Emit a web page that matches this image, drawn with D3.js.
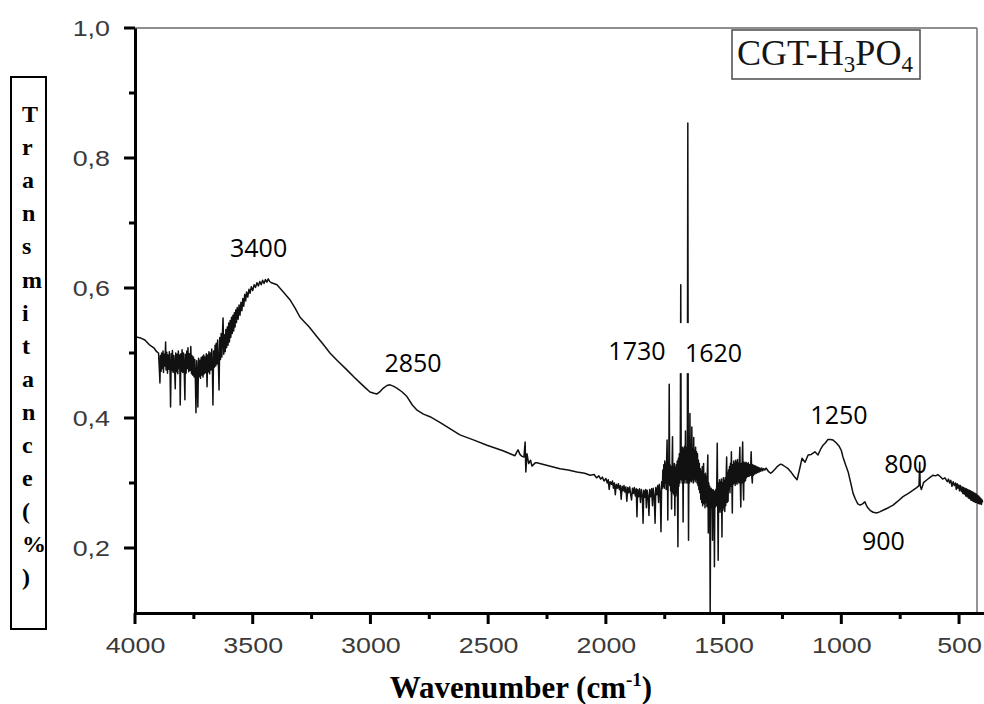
<!DOCTYPE html>
<html>
<head>
<meta charset="utf-8">
<script src="https://cdn.jsdelivr.net/npm/d3@7"></script>
<style>
  html, body { margin: 0; padding: 0; background: #ffffff; }
  svg { display: block; }
</style>
</head>
<body>
<script>
// ---------------- DATA ----------------
const xTickValues = [4000, 3500, 3000, 2500, 2000, 1500, 1000, 500];
const xTickLabels = ["4000", "3500", "3000", "2500", "2000", "1500", "1000", "500"];
const xMinorTicks = [3750, 3250, 2750, 2250, 1750, 1250, 750];
const yTickValues = [0.2, 0.4, 0.6, 0.8, 1.0];
const yTickLabels = ["0,2", "0,4", "0,6", "0,8", "1,0"];
const yMinorTicks = [0.3, 0.5, 0.7, 0.9];

const legendLabel = ["CGT-H", "3", "PO", "4"];
const yAxisLetters = ["T","r","a","n","s","m","i","t","a","n","c","e","(","%",")"];
const xAxisTitle = ["Wavenumber (cm", "-1", ")"];

// peak annotations: label, anchor wavenumber, anchor transmittance
const peakLabels = ["3400", "2850", "1730", "1620", "1250", "800", "900"];
const peakWn     = [3475, 2819, 1868, 1543, 1010, 727, 821];
const peakT      = [0.648, 0.471, 0.489, 0.486, 0.391, 0.315, 0.197];

// FTIR spectrum [wavenumber cm-1, transmittance]
const spectrum = [
 [4000,0.525],[3975,0.523],[3958,0.520],[3940,0.513],[3920,0.508],[3908,0.502],
 [3900,0.500],[3897,0.478],[3894,0.454],[3892,0.496],[3889,0.472],[3887,0.500],[3884,0.476],[3881,0.503],
 [3879,0.470],[3876,0.498],[3873,0.480],[3870,0.517],[3868,0.474],[3865,0.501],[3862,0.469],[3860,0.497],
 [3857,0.475],[3854,0.502],[3851,0.471],[3849,0.417],[3846,0.499],[3843,0.473],[3841,0.504],[3838,0.470],
 [3835,0.496],[3832,0.478],[3829,0.445],[3827,0.500],[3824,0.471],[3821,0.498],[3818,0.468],[3816,0.503],
 [3813,0.476],[3810,0.497],[3808,0.420],[3805,0.499],[3802,0.472],[3800,0.505],[3797,0.470],[3794,0.500],
 [3791,0.474],[3788,0.428],[3786,0.498],[3783,0.469],[3780,0.503],[3777,0.476],[3775,0.508],[3772,0.471],
 [3769,0.499],[3766,0.473],[3763,0.510],[3760,0.468],[3758,0.496],[3755,0.466],[3752,0.494],[3749,0.463],
 [3746,0.490],[3744,0.466],[3741,0.408],[3738,0.488],[3735,0.462],[3733,0.417],[3730,0.492],[3727,0.464],
 [3724,0.489],[3722,0.461],[3719,0.493],[3716,0.466],[3713,0.495],[3711,0.463],[3708,0.497],[3705,0.468],
 [3702,0.494],[3700,0.470],[3697,0.499],[3694,0.448],[3691,0.497],[3688,0.471],[3686,0.502],[3683,0.468],
 [3680,0.500],[3677,0.474],[3674,0.506],[3671,0.470],[3669,0.420],[3666,0.503],[3663,0.478],[3660,0.512],
 [3657,0.480],[3655,0.515],[3652,0.483],[3649,0.520],[3646,0.486],[3643,0.443],[3640,0.524],[3637,0.490],
 [3634,0.530],[3631,0.494],[3628,0.535],[3626,0.554],[3623,0.498],
 [3620,0.528],[3617,0.502],[3614,0.536],[3611,0.508],[3608,0.540],[3605,0.512],[3602,0.546],[3599,0.517],
 [3596,0.550],[3593,0.524],[3590,0.555],[3587,0.530],[3584,0.558],[3581,0.534],[3578,0.562],[3575,0.540],
 [3572,0.566],[3569,0.547],[3566,0.570],[3562,0.552],[3558,0.574],[3554,0.558],[3550,0.578],[3546,0.565],
 [3542,0.584],[3538,0.572],[3534,0.590],[3530,0.580],[3526,0.594],[3521,0.586],[3516,0.598],[3511,0.592],
 [3506,0.602],[3500,0.596],[3494,0.605],[3488,0.601],[3482,0.608],[3476,0.603],[3470,0.610],[3464,0.605],
 [3458,0.612],[3452,0.607],[3446,0.613],[3440,0.609],[3434,0.614],[3428,0.610],[3420,0.608],
 [3397,0.605],[3370,0.594],[3342,0.582],[3320,0.569],[3299,0.555],[3260,0.540],
 [3227,0.525],[3200,0.513],[3172,0.500],[3140,0.488],[3100,0.474],[3070,0.463],
 [3044,0.454],[3020,0.446],[3002,0.440],[2985,0.438],[2972,0.437],[2958,0.441],
 [2945,0.446],[2930,0.450],[2917,0.451],[2903,0.449],[2888,0.446],[2865,0.440],
 [2845,0.433],[2822,0.420],[2802,0.412],[2775,0.406],[2747,0.402],
 [2700,0.392],[2620,0.374],[2560,0.366],[2505,0.358],[2440,0.350],[2386,0.342],
 [2378,0.348],[2373,0.351],[2365,0.344],[2356,0.341],[2348,0.340],[2343,0.363],
 [2340,0.317],[2335,0.345],[2328,0.330],[2320,0.335],[2314,0.326],[2300,0.331],
 [2293,0.331],[2240,0.326],[2195,0.322],[2160,0.320],[2123,0.317],[2090,0.315],
 [2067,0.312],[2050,0.313],
 [2040,0.308],[2030,0.311],[2022,0.306],[2015,0.309],[2008,0.303],[2000,0.307],[1994,0.300],[1990,0.305],
 [1986,0.290],[1982,0.302],[1976,0.298],[1972,0.303],[1968,0.292],[1964,0.300],[1960,0.282],[1956,0.298],
 [1951,0.292],[1947,0.299],[1943,0.290],[1939,0.296],[1935,0.275],[1931,0.295],[1927,0.288],[1923,0.296],
 [1919,0.286],[1915,0.294],[1911,0.272],[1907,0.293],[1903,0.285],[1899,0.294],[1895,0.283],[1891,0.274],
 [1887,0.292],[1883,0.284],[1879,0.293],[1875,0.280],[1871,0.291],[1868,0.248],[1865,0.290],[1861,0.279],
 [1857,0.291],[1853,0.270],[1849,0.290],[1845,0.280],[1842,0.238],[1839,0.289],[1835,0.278],[1831,0.290],
 [1828,0.262],[1825,0.289],[1821,0.280],[1817,0.250],[1814,0.290],[1810,0.279],[1806,0.291],[1802,0.265],
 [1799,0.292],[1795,0.281],[1791,0.238],[1788,0.293],[1784,0.282],[1780,0.296],[1776,0.270],[1773,0.298],
 [1769,0.285],[1766,0.225],[1763,0.302],[1760,0.292],
 [1758,0.320],[1756,0.295],[1754,0.328],[1752,0.292],[1750,0.334],[1748,0.300],[1746,0.330],[1744,0.290],
 [1742,0.336],[1740,0.366],[1738,0.296],[1737,0.243],[1735,0.330],[1733,0.300],[1731,0.452],[1729,0.296],
 [1727,0.328],[1725,0.288],[1723,0.325],[1721,0.260],[1719,0.322],[1717,0.371],[1715,0.285],[1713,0.326],
 [1711,0.282],[1709,0.330],[1707,0.250],[1705,0.324],[1703,0.280],[1701,0.328],[1699,0.285],[1697,0.334],
 [1694,0.202],[1692,0.338],[1690,0.295],[1688,0.345],[1686,0.300],[1684,0.350],[1682,0.605],[1680,0.305],
 [1678,0.352],[1676,0.300],[1674,0.355],[1672,0.240],[1670,0.352],[1668,0.305],[1666,0.356],[1664,0.300],
 [1662,0.380],[1660,0.306],[1658,0.354],[1656,0.300],[1654,0.358],[1652,0.854],[1650,0.305],[1649,0.212],
 [1647,0.352],[1645,0.300],[1643,0.407],[1641,0.304],[1639,0.350],[1637,0.302],[1635,0.386],[1633,0.305],
 [1631,0.352],[1629,0.300],[1627,0.370],[1625,0.306],[1623,0.350],[1621,0.302],[1619,0.355],[1617,0.305],
 [1615,0.348],[1613,0.300],[1611,0.345],[1609,0.296],[1607,0.335],[1605,0.290],[1603,0.330],[1601,0.285],
 [1599,0.322],[1597,0.275],[1595,0.318],[1593,0.270],[1591,0.325],[1589,0.265],[1587,0.316],[1585,0.330],
 [1583,0.268],[1581,0.312],[1579,0.262],[1577,0.315],[1575,0.270],[1573,0.310],[1571,0.264],[1569,0.318],
 [1567,0.343],[1565,0.223],[1563,0.300],[1561,0.262],[1559,0.295],[1557,0.100],[1555,0.265],[1553,0.292],
 [1551,0.262],[1549,0.289],[1547,0.212],[1545,0.290],[1543,0.262],[1541,0.288],[1539,0.171],[1537,0.286],
 [1535,0.263],[1533,0.290],[1531,0.265],[1529,0.300],[1527,0.361],[1525,0.262],[1523,0.181],[1521,0.300],
 [1519,0.258],[1517,0.305],[1515,0.255],[1513,0.302],[1511,0.260],[1509,0.306],[1507,0.217],[1505,0.300],
 [1503,0.258],[1501,0.308],[1499,0.262],[1497,0.304],[1495,0.256],[1493,0.308],[1491,0.265],[1489,0.312],
 [1487,0.340],[1485,0.270],[1483,0.315],[1481,0.272],[1479,0.320],[1477,0.290],[1475,0.325],[1473,0.285],
 [1471,0.330],[1469,0.295],[1467,0.348],[1465,0.300],[1463,0.254],[1461,0.328],[1459,0.298],[1457,0.334],
 [1455,0.300],[1453,0.330],[1451,0.296],[1449,0.335],[1447,0.300],[1445,0.332],[1443,0.298],[1441,0.336],
 [1439,0.302],[1437,0.330],[1435,0.300],[1433,0.334],[1431,0.355],[1429,0.298],[1427,0.263],[1425,0.330],
 [1423,0.300],[1421,0.335],[1419,0.363],[1417,0.300],[1415,0.274],[1413,0.332],[1411,0.302],[1409,0.330],
 [1407,0.304],[1405,0.332],[1403,0.308],[1401,0.330],[1398,0.310],[1395,0.331],[1392,0.310],[1389,0.328],
 [1386,0.312],[1383,0.348],[1380,0.309],[1378,0.300],[1376,0.328],[1373,0.312],[1370,0.327],[1367,0.314],
 [1364,0.326],[1361,0.315],[1358,0.325],[1355,0.316],[1352,0.324],[1349,0.317],[1346,0.323],[1342,0.318],
 [1338,0.323],[1334,0.319],[1330,0.322],[1325,0.320],[1320,0.323],
 [1310,0.318],[1300,0.315],
 [1290,0.318],[1282,0.321],[1270,0.326],[1258,0.329],[1250,0.328],[1238,0.325],
 [1226,0.322],[1212,0.316],[1200,0.310],[1188,0.305],[1178,0.320],[1167,0.338],
 [1154,0.332],[1141,0.343],[1128,0.344],[1112,0.348],[1099,0.343],[1088,0.352],
 [1078,0.358],[1067,0.362],[1057,0.367],[1046,0.367],[1035,0.366],[1022,0.362],
 [1010,0.357],[1000,0.350],[993,0.340],[982,0.328],[971,0.317],[960,0.300],
 [950,0.284],[940,0.275],[930,0.268],[920,0.266],[910,0.268],[900,0.271],
 [890,0.263],[878,0.258],[865,0.255],[848,0.254],[835,0.256],[823,0.258],
 [800,0.262],[780,0.266],[760,0.272],[738,0.279],[715,0.284],[695,0.289],
 [680,0.293],[670,0.296],[667,0.332],[665,0.296],[660,0.290],[650,0.301],
 [636,0.305],[622,0.309],[610,0.312],[600,0.311],[590,0.313],[580,0.310],
 [570,0.306],[560,0.308],[550,0.302],[545,0.306],[540,0.300],[535,0.304],[530,0.295],[525,0.302],[520,0.296],
 [515,0.300],[512,0.290],[508,0.299],[505,0.292],[501,0.297],[498,0.288],[494,0.296],[490,0.287],[487,0.294],
 [484,0.284],[481,0.293],[478,0.283],[475,0.292],[472,0.280],[469,0.291],[466,0.279],[463,0.290],[460,0.277],
 [457,0.289],[455,0.276],[452,0.288],[450,0.274],[447,0.287],[445,0.273],[442,0.286],[440,0.272],
 [437,0.285],[435,0.271],[432,0.284],[430,0.270],[427,0.283],[425,0.270],[422,0.281],[420,0.269],
 [417,0.280],[415,0.268],[412,0.278],[410,0.268],[407,0.276],[405,0.267],[402,0.274],[400,0.270]
];

// ---------------- LAYOUT ----------------
const W = 984, H = 704;
const mLeft = 135, mRight = 984, mTop = 28, mBottom = 613;
const frameRight = 977;

const svg = d3.select("body").append("svg")
  .attr("width", W).attr("height", H)
  .style("background", "#fff");

const x = d3.scaleLinear().domain([4000, 394]).range([mLeft, mRight]);
const y = d3.scaleLinear().domain([0.1, 1.0]).range([mBottom, mTop]);

// frame (top and right, gray)
svg.append("line").attr("x1", mLeft).attr("x2", frameRight).attr("y1", mTop).attr("y2", mTop)
  .attr("stroke", "#6a6a6a").attr("stroke-width", 1.6);
svg.append("line").attr("x1", frameRight).attr("x2", frameRight).attr("y1", mTop).attr("y2", mBottom)
  .attr("stroke", "#7a7a7a").attr("stroke-width", 1.6);

// spectrum line
svg.append("defs").append("clipPath").attr("id", "clip")
  .append("rect").attr("x", mLeft).attr("y", mTop - 2).attr("width", mRight - mLeft).attr("height", mBottom - mTop + 2);

const line = d3.line().x(d => x(d[0])).y(d => y(d[1]));
svg.append("path")
  .datum(spectrum)
  .attr("clip-path", "url(#clip)")
  .attr("fill", "none")
  .attr("stroke", "#111")
  .attr("stroke-width", 1.5)
  .attr("stroke-linejoin", "round")
  .attr("d", line);

// axes (labels + domain from d3.axis)
const tickFont = "'Liberation Sans', Arial, Helvetica, sans-serif";

const xAxis = d3.axisBottom(x).tickValues(xTickValues)
  .tickFormat((d, i) => xTickLabels[i]).tickSize(0).tickPadding(24).tickSizeOuter(0);
const gx = svg.append("g").attr("transform", `translate(0,${mBottom})`).call(xAxis);

const yAxis = d3.axisLeft(y).tickValues(yTickValues)
  .tickFormat((d, i) => yTickLabels[i]).tickSize(0).tickPadding(25).tickSizeOuter(0);
const gy = svg.append("g").attr("transform", `translate(${mLeft},0)`).call(yAxis);

[gx, gy].forEach(g => {
  g.select(".domain").attr("stroke", "#000").attr("stroke-width", 3);
  g.selectAll(".tick text")
    .attr("fill", "#3a3a3a")
    .style("font-family", tickFont)
    .style("font-size", "22px")
    .each(function() {
      const w = this.getComputedTextLength();
      d3.select(this).attr("textLength", w * 1.22).attr("lengthAdjust", "spacingAndGlyphs");
    });
});

// tick marks as one path, positioned by the scales
const tickPath = d3.path();
xTickValues.forEach(v => { tickPath.moveTo(x(v), mBottom); tickPath.lineTo(x(v), mBottom + 11); });
xMinorTicks.forEach(v => { tickPath.moveTo(x(v), mBottom); tickPath.lineTo(x(v), mBottom + 6); });
yTickValues.forEach(v => { tickPath.moveTo(mLeft, y(v)); tickPath.lineTo(mLeft - 11, y(v)); });
yMinorTicks.forEach(v => { tickPath.moveTo(mLeft, y(v)); tickPath.lineTo(mLeft - 6, y(v)); });
svg.append("path").attr("d", tickPath.toString())
  .attr("fill", "none").attr("stroke", "#000").attr("stroke-width", 3);

// peak annotations
const annFont = "'Open Sans', 'Noto Sans', sans-serif";
const whiteBoxes = new Set(["1730", "1620"]);
peakLabels.forEach((lab, i) => {
  const cx = x(peakWn[i]), by = y(peakT[i]);
  if (whiteBoxes.has(lab)) {
    svg.append("rect").attr("x", cx - 35).attr("y", by - 39).attr("width", 70).attr("height", 50)
      .attr("fill", "#fff");
  }
  svg.append("text").attr("x", cx).attr("y", by)
    .attr("text-anchor", "middle")
    .style("font-family", annFont).style("font-size", "25px")
    .attr("fill", "#000").text(lab);
});

// legend box
svg.append("rect").attr("x", 732).attr("y", 30).attr("width", 188).attr("height", 49)
  .attr("fill", "#fff").attr("stroke", "#555").attr("stroke-width", 1.6);
const legG = svg.append("g");
const legT = legG.append("text").attr("x", 0).attr("y", 0)
  .style("font-family", "'Liberation Serif', 'Times New Roman', serif")
  .style("font-size", "36px").attr("fill", "#151515");
legT.append("tspan").text(legendLabel[0]);
legT.append("tspan").attr("dy", 7).style("font-size", "23px").text(legendLabel[1]);
legT.append("tspan").attr("dy", -7).text(legendLabel[2]);
legT.append("tspan").attr("dy", 7).style("font-size", "23px").text(legendLabel[3]);
const legW = legT.node().getComputedTextLength();
legG.attr("transform", `translate(737,65) scale(${176 / legW},1)`);

// y-axis title box (vertical stacked letters)
svg.append("rect").attr("x", 11).attr("y", 77).attr("width", 35).attr("height", 552)
  .attr("fill", "none").attr("stroke", "#000").attr("stroke-width", 2);
svg.append("g").selectAll("text").data(yAxisLetters).join("text")
  .attr("x", 22).attr("y", (d, i) => 122 + 33.1 * i)
  .style("font-family", "'Liberation Serif', 'Times New Roman', serif")
  .style("font-size", "24px").style("font-weight", "bold")
  .attr("fill", "#000").text(d => d);

// x-axis title
const xt = svg.append("text").attr("x", 521).attr("y", 698).attr("text-anchor", "middle")
  .style("font-family", "'Liberation Serif', 'Times New Roman', serif")
  .style("font-size", "31px").style("font-weight", "bold").attr("fill", "#000");
xt.append("tspan").text(xAxisTitle[0]);
xt.append("tspan").attr("dy", -12).style("font-size", "19px").text(xAxisTitle[1]);
xt.append("tspan").attr("dy", 12).text(xAxisTitle[2]);
</script>
</body>
</html>
